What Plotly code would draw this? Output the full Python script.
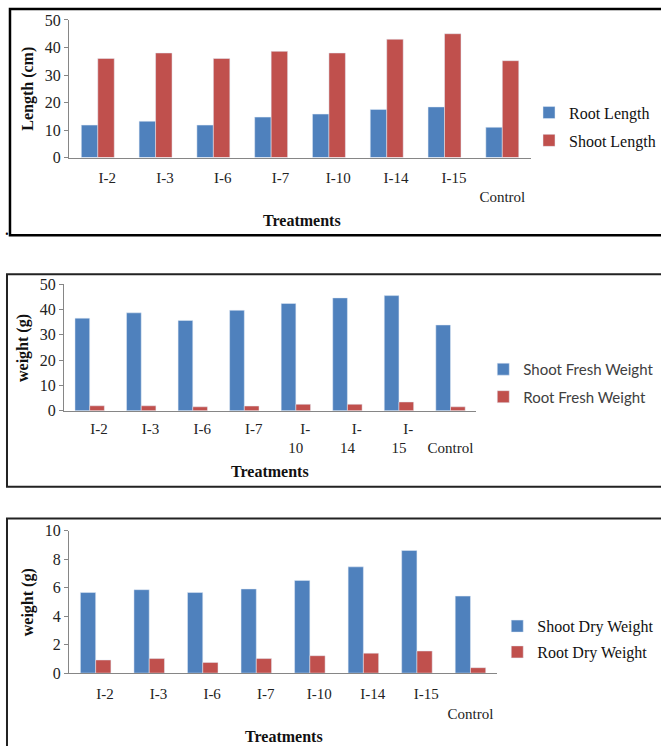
import plotly.graph_objects as go

W, H = 661, 746

treatments = ["I-2", "I-3", "I-6", "I-7", "I-10", "I-14", "I-15", "Control"]

# Panel 1: lengths (cm)
root_length = [11.8, 13.2, 11.8, 14.7, 15.8, 17.5, 18.4, 11.0]
shoot_length = [36.0, 38.0, 36.0, 38.6, 38.0, 43.0, 45.0, 35.2]

# Panel 2: fresh weights (g)
shoot_fresh = [36.6, 38.7, 35.7, 39.7, 42.4, 44.6, 45.5, 33.9]
root_fresh = [2.0, 2.0, 1.6, 1.9, 2.6, 2.6, 3.5, 1.6]

# Panel 3: dry weights (g)
shoot_dry = [5.65, 5.85, 5.65, 5.9, 6.5, 7.45, 8.6, 5.4]
root_dry = [0.92, 1.02, 0.75, 1.02, 1.22, 1.4, 1.55, 0.38]

# tick labels as drawn in each panel (wrapped the way the source wraps them)
ticks_p1 = ["I-2", "I-3", "I-6", "I-7", "I-10", "I-14", "I-15", "<br>Control"]
ticks_p2 = ["I-2", "I-3", "I-6", "I-7", "I-<br>10", "I-<br>14", "I-<br>15", "<br>Control"]
ticks_p3 = ["I-2", "I-3", "I-6", "I-7", "I-10", "I-14", "I-15", "<br>Control"]

BLUE = "#4F81BD"
RED = "#C0504D"
SERIF = "Liberation Serif, Times New Roman, serif"
AXC = "#868686"
NB = "\u00a0" * 5  # the source draws the I-xx labels a little right of the bar pair


def shifted(labels):
    out = []
    for t in labels:
        if t.startswith("<br>"):
            out.append(t)
        elif "<br>" in t:
            a, b = t.split("<br>", 1)
            out.append(NB + a + "<br>" + b)
        else:
            out.append(NB + t)
    return out


def px(x):
    return x / W


def py(y):
    return 1 - ((y - 7) / 0.98) / H


fig = go.Figure()

fig.add_trace(go.Bar(x=treatments, y=root_length, name="Root Length", marker_color=BLUE,
                     xaxis="x", yaxis="y", legend="legend", legendgroup="a"))
fig.add_trace(go.Bar(x=treatments, y=shoot_length, name="Shoot Length", marker_color=RED,
                     xaxis="x", yaxis="y", legend="legend", legendgroup="b"))
fig.add_trace(go.Bar(x=treatments, y=shoot_fresh, name="Shoot Fresh Weight", marker_color=BLUE,
                     xaxis="x2", yaxis="y2", legend="legend2", legendgroup="c"))
fig.add_trace(go.Bar(x=treatments, y=root_fresh, name="Root Fresh Weight", marker_color=RED,
                     xaxis="x2", yaxis="y2", legend="legend2", legendgroup="d"))
fig.add_trace(go.Bar(x=treatments, y=shoot_dry, name="Shoot Dry Weight", marker_color=BLUE,
                     xaxis="x3", yaxis="y3", legend="legend3", legendgroup="e"))
fig.add_trace(go.Bar(x=treatments, y=root_dry, name="Root Dry Weight", marker_color=RED,
                     xaxis="x3", yaxis="y3", legend="legend3", legendgroup="f"))


def xaxis(dom, anchor, ticktext, ticklen):
    return dict(domain=dom, anchor=anchor, type="category", tickvals=treatments,
                ticktext=shifted(ticktext),
                showline=True, linecolor=AXC, linewidth=1, ticks="outside", ticklen=ticklen,
                tickcolor="rgba(0,0,0,0)", tickfont=dict(family=SERIF, size=15, color="#222"),
                showgrid=False, zeroline=False, fixedrange=True, tickangle=0)


def yaxis(dom, anchor, rng, dtick):
    return dict(domain=dom, anchor=anchor, range=rng, dtick=dtick, showline=True, linecolor=AXC,
                linewidth=1, ticks="outside", ticklen=4, tickcolor=AXC,
                tickfont=dict(family=SERIF, size=16, color="#222"), showgrid=False,
                zeroline=False, fixedrange=True)


fig.update_layout(
    width=W, height=H, margin=dict(l=0, r=0, t=0, b=0),
    paper_bgcolor="white", plot_bgcolor="white",
    barmode="group", bargap=0.43, bargroupgap=0,
    xaxis=xaxis([px(69), px(532)], "y", ticks_p1, 6),
    yaxis=yaxis([py(157), py(19)], "x", [0, 50], 10),
    xaxis2=xaxis([px(64), px(477)], "y2", ticks_p2, 4),
    yaxis2=yaxis([py(411), py(284)], "x2", [0, 50], 10),
    xaxis3=xaxis([px(69), px(498)], "y3", ticks_p3, 7),
    yaxis3=yaxis([py(674), py(531)], "x3", [0, 10], 2),
    legend=dict(x=px(530), y=py(126), xanchor="left", yanchor="middle",
                font=dict(family=SERIF, size=16, color="#111"), traceorder="grouped",
                tracegroupgap=4, bgcolor="rgba(0,0,0,0)"),
    legend2=dict(x=px(484), y=py(383), xanchor="left", yanchor="middle",
                 font=dict(family="Lato, Liberation Sans, sans-serif", size=15, color="#404040"),
                 traceorder="grouped", tracegroupgap=5, bgcolor="rgba(0,0,0,0)"),
    legend3=dict(x=px(498), y=py(640), xanchor="left", yanchor="middle",
                 font=dict(family=SERIF, size=16, color="#111"), traceorder="grouped",
                 tracegroupgap=2, bgcolor="rgba(0,0,0,0)"),
    showlegend=True,
)

# panel frames
fig.add_shape(type="rect", xref="paper", yref="paper", x0=px(10), x1=px(700), y0=py(235), y1=py(8),
              line=dict(color="black", width=2.5), layer="below")
fig.add_shape(type="rect", xref="paper", yref="paper", x0=px(7), x1=px(700), y0=py(487), y1=py(274),
              line=dict(color="#222", width=2), layer="below")
fig.add_shape(type="rect", xref="paper", yref="paper", x0=px(7), x1=px(700), y0=py(790), y1=py(519),
              line=dict(color="#222", width=2), layer="below")

title_font = dict(family=SERIF, size=16, color="#111")
annots = [
    dict(text="<b>Treatments</b>", x=px(302), y=py(220)),
    dict(text="<b>Length (cm)</b>", x=px(28), y=py(88), textangle=-90),
    dict(text="<b>Treatments</b>", x=px(270), y=py(472)),
    dict(text="<b>weight (g)</b>", x=px(23), y=py(348), textangle=-90),
    dict(text="<b>Treatments</b>", x=px(284), y=py(738)),
    dict(text="<b>weight (g)</b>", x=px(28), y=py(603), textangle=-90),
]
for a in annots:
    fig.add_annotation(xref="paper", yref="paper", showarrow=False, font=title_font,
                       xanchor="center", yanchor="middle", **a)

fig.add_annotation(text="•", xref="paper", yref="paper", x=px(7), y=py(234), showarrow=False,
                   font=dict(size=10, color="black"), xanchor="center", yanchor="middle",
                   borderpad=0)

fig.write_html("out.html", config={"displayModeBar": False},
               post_script="document.body.style.margin='0';document.body.style.overflow='hidden';")
